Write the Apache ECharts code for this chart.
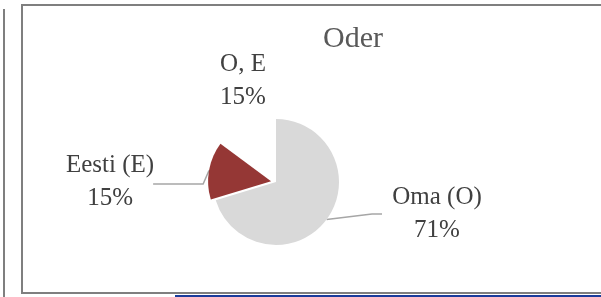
<!DOCTYPE html>
<html>
<head>
<meta charset="utf-8">
<script src="https://cdn.jsdelivr.net/npm/echarts@6/dist/echarts.min.js"></script>
<style>
html,body{margin:0;padding:0;background:#fff;}
#c{width:601px;height:297px;}
</style>
</head>
<body>
<div id="c"></div>
<script>
var categories = ['Oma (O)', 'Eesti (E)', 'O, E'];
var values = [71, 15, 15];
var colors = ['#d9d9d9', '#953735', '#ffffff'];
var titleText = 'Oder';
// label centre positions (label placement only)
var labelPos = [[437, 214], [115, 183], [243, 81]];
var labelBoxW = 110;

var chart = echarts.init(document.getElementById('c'), null, {renderer: 'canvas'});
var data = categories.map(function (n, i) {
  var item = {
    name: n,
    value: values[i],
    selected: i === 1,
    itemStyle: {color: colors[i]},
    labelLine: {show: i !== 2}
  };
  if (i === 1) { item.labelLine.length = 10; item.labelLine.length2 = 50; }
  return item;
});
chart.setOption({
  animation: false,
  backgroundColor: '#fff',
  title: {
    text: titleText,
    left: 318, top: 19,
    textStyle: {fontFamily: 'Liberation Serif', fontSize: 30, fontWeight: 'normal', color: '#595959'}
  },
  graphic: [
    {type: 'rect', shape: {x: 22, y: 5, width: 600, height: 288}, style: {fill: 'none', stroke: '#7f7f7f', lineWidth: 2}, silent: true},
    {type: 'line', shape: {x1: 4, y1: 9, x2: 4, y2: 297}, style: {stroke: '#7f7f7f', lineWidth: 2}, silent: true},
    {type: 'rect', shape: {x: 175, y: 295, width: 426, height: 2}, style: {fill: '#1a3c9c'}, silent: true}
  ],
  series: [{
    type: 'pie',
    center: [276, 182],
    radius: 63,
    startAngle: 90,
    clockwise: true,
    selectedMode: 'single',
    selectedOffset: 5,
    silent: true,
    data: data,
    itemStyle: {borderWidth: 0},
    label: {
      show: true,
      position: 'outside',
      alignTo: 'none',
      formatter: function (p) { return '{a|' + p.name + '}\n{a|' + p.value + '%}'; },
      rich: {
        a: {fontFamily: 'Liberation Serif', fontSize: 25, lineHeight: 33, color: '#404040', width: labelBoxW, align: 'center'}
      },
      fontFamily: 'Liberation Serif',
      fontSize: 25,
      lineHeight: 33,
      color: '#404040'
    },
    labelLine: {show: true, length: 10, length2: 10, lineStyle: {color: '#a6a6a6', width: 1.5}},
    labelLayout: function (p) {
      var pos = labelPos[p.dataIndex];
      if (p.dataIndex === 1) {
        var r = p.labelRect;
        return {dx: pos[0] - (r.x + r.width / 2), dy: pos[1] - (r.y + r.height / 2)};
      }
      var leftSide = p.dataIndex !== 0;
      return {x: pos[0] + (leftSide ? labelBoxW / 2 : -labelBoxW / 2), y: pos[1]};
    }
  }]
});
</script>
</body>
</html>
